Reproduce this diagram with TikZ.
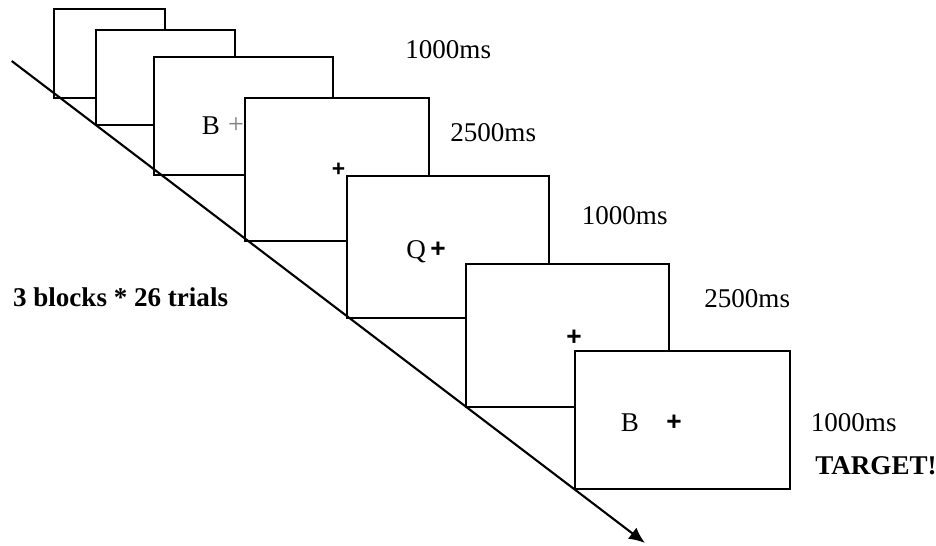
\documentclass[tikz,border=0pt]{standalone}
\usepackage{fontspec}
\setmainfont{Liberation Serif}
\setsansfont{Liberation Sans}
\usetikzlibrary{arrows.meta,calc}
\usepackage{tkz-euclide}

\tikzset{
  frame/.style={draw=black,fill=white,line width=1.4pt},
  txt/.style={font=\fontsize{15.4}{18}\selectfont,inner sep=0pt,anchor=base west},
  boldtxt/.style={txt,font=\fontsize{15.4}{18}\selectfont\bfseries},
  fix/.style={font=\fontsize{15}{17}\selectfont\sffamily\bfseries,inner sep=0pt},
}

\begin{document}
\begin{tikzpicture}
\useasboundingbox (0,0) rectangle (18.72,10.92);

\tkzDefPoints{1.08/8.96/L1,3.30/10.74/U1,
  1.92/8.42/L2,4.70/10.32/U2,
  3.08/7.42/L3,6.66/9.78/U3,
  4.90/6.10/L4,8.58/8.96/U4,
  6.94/4.56/L5,10.98/7.40/U5,
  9.32/2.78/L6,13.38/5.64/U6,
  11.50/1.14/L7,15.80/3.90/U7}
\tkzDefPoints{0.234/9.70/S,12.90/0.06/E}

% screens, back to front
\draw[frame] (L1) rectangle (U1);
\draw[frame] (L2) rectangle (U2);
\draw[frame] (L3) rectangle (U3);
\node[txt] (b1) at (4.03,8.22) {B};
\node[inner sep=0pt,text=black!50,font=\fontsize{16}{18}\selectfont] (p1) at (4.72,8.40) {+};
\draw[frame] (L4) rectangle (U4);
\node[fix,font=\fontsize{13}{15}\selectfont\sffamily\bfseries] (p2) at (6.77,7.52) {+};
\draw[frame] (L5) rectangle (U5);
\node[txt] (q) at (8.12,5.74) {Q};
\node[fix] (p3) at (8.76,5.92) {+};
\draw[frame] (L6) rectangle (U6);
\node[fix] (p4) at (11.48,4.16) {+};
\draw[frame] (L7) rectangle (U7);
\node[txt] (b2) at (12.41,2.29) {B};
\node[fix] (p5) at (13.48,2.46) {+};

% time axis
\draw[line width=1.2pt,-{Latex[length=3.2mm,width=2.8mm]}] (S) -- (E);

% durations
\node[txt] (d1) at (8.10,9.74) {1000ms};
\node[txt] (d2) at (9.00,8.08) {2500ms};
\node[txt] (d3) at (11.63,6.42) {1000ms};
\node[txt] (d4) at (14.08,4.76) {2500ms};
\node[txt] (d5) at (16.21,2.29) {1000ms};
\node[boldtxt] (tgt) at (16.30,1.42) {TARGET!};
\node[boldtxt] (blk) at (0.254,4.78) {3 blocks * 26 trials};

\end{tikzpicture}
\end{document}
